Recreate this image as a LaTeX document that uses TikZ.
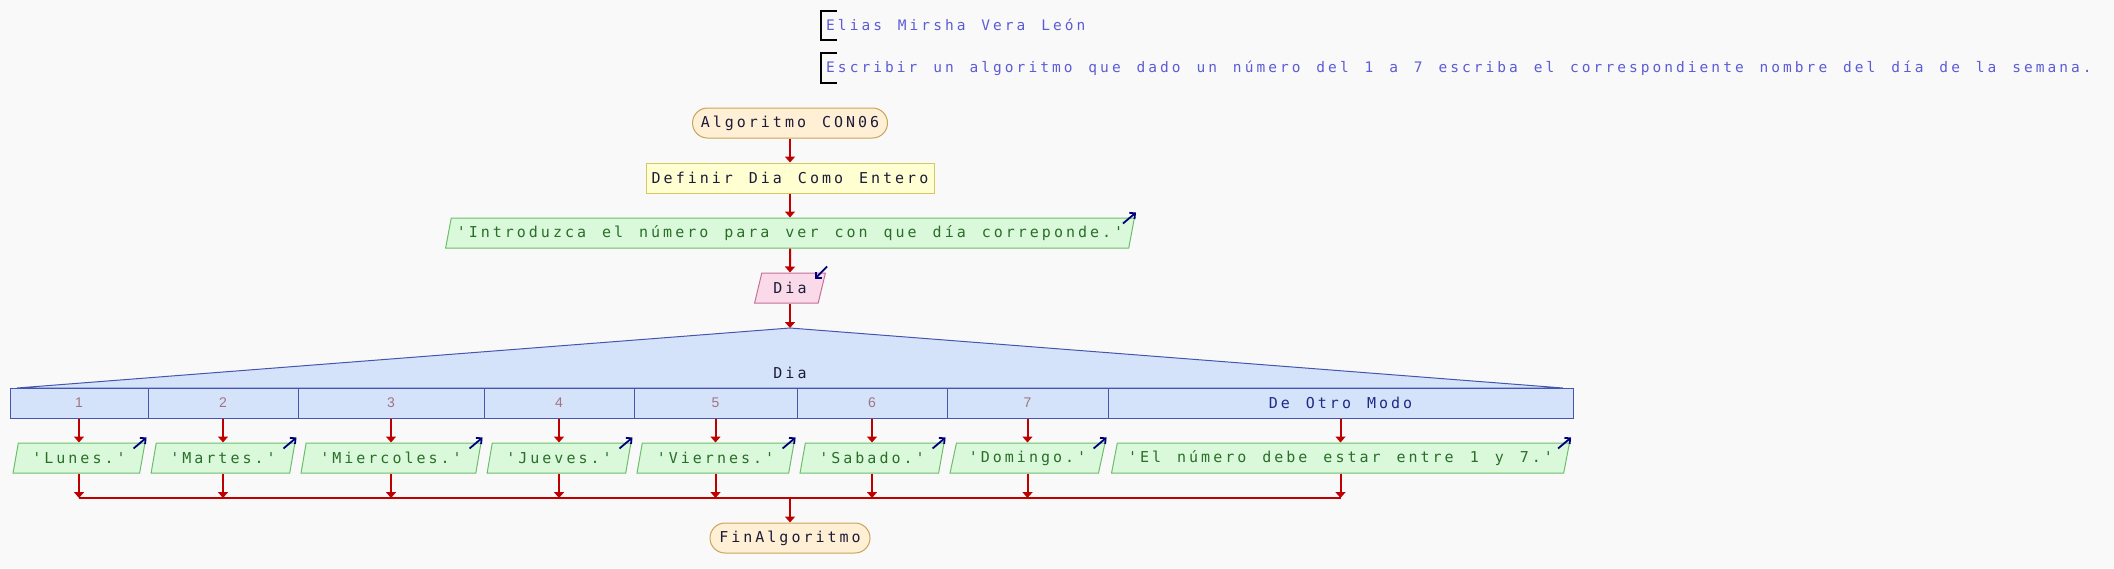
\documentclass[tikz,border=0pt]{standalone}
\usepackage{fontspec}
\usetikzlibrary{shapes.geometric,arrows.meta}
\newfontfamily\flowfont[LetterSpace=20,WordSpace=1.33,Ligatures=TeXOff]{DejaVu Sans Mono}
\newfontfamily\notefont[LetterSpace=21,WordSpace=1.35,Ligatures=TeXOff]{DejaVu Sans Mono}
\newfontfamily\casefont{Liberation Sans}
\definecolor{paperGray}{HTML}{F9F9F9}
\definecolor{noteBlue}{HTML}{5C5CD6}
\definecolor{inkNavy}{HTML}{1C1C3A}
\definecolor{flowRed}{HTML}{BE0000}
\definecolor{iconNavy}{HTML}{000078}
\definecolor{endFill}{HTML}{FFEFD4}
\definecolor{endLine}{HTML}{C9A45A}
\definecolor{defFill}{HTML}{FFFFD2}
\definecolor{defLine}{HTML}{D2C864}
\definecolor{outFill}{HTML}{DAF8DA}
\definecolor{outLine}{HTML}{6CBE6C}
\definecolor{outText}{HTML}{2A6E2A}
\definecolor{inFill}{HTML}{FADAE8}
\definecolor{inLine}{HTML}{C4709A}
\definecolor{caseFill}{HTML}{D4E2FA}
\definecolor{caseLine}{HTML}{4656B0}
\definecolor{caseNum}{HTML}{A07484}
\definecolor{otherBlue}{HTML}{1E2A88}

\tikzset{
  every node/.style={inner sep=0pt, text=inkNavy, font=\flowfont\fontsize{15}{15}\selectfont},
  note/.style={anchor=west, text=noteBlue, font=\notefont\fontsize{14.5}{14.5}\selectfont},
  bracket/.style={line width=1.4pt, black},
  terminal/.style={draw=endLine, fill=endFill, rounded corners=15pt, minimum height=30pt, line width=1pt},
  define/.style={draw=defLine, fill=defFill, minimum height=30pt, line width=1pt},
  slanted/.style={trapezium, trapezium left angle=70, trapezium right angle=110, trapezium stretches=true, minimum height=30pt, line width=1pt},
  outbox/.style={slanted, draw=outLine, fill=outFill, text=outText},
  inbox/.style={slanted, draw=inLine, fill=inFill},
  casecell/.style={draw=caseLine, fill=caseFill, minimum height=30pt, line width=1pt, text=caseNum, font=\casefont\fontsize{14}{14}\selectfont},
  flow/.style={flowRed, line width=2pt, -{Triangle[length=6pt,width=10pt]}},
  icon/.style={iconNavy, line width=1.8pt, -{Straight Barb[length=4pt,width=8pt]}},
}

\begin{document}
\begin{tikzpicture}[x=1pt, y=-1pt]
\useasboundingbox (0,0) rectangle (2114,568);
\fill[paperGray] (0,0) rectangle (2114,568);

\node[note] (author) at (826,25) {Elias Mirsha Vera León};
\draw[bracket] ([shift={(11,-14)}]author.west) -- ++(-16,0) -- ++(0,29) -- ++(16,0);
\node[note] (task) at (826,68) {Escribir un algoritmo que dado un número del 1 a 7 escriba el correspondiente nombre del día de la semana.};
\draw[bracket] ([shift={(11,-15)}]task.west) -- ++(-16,0) -- ++(0,30) -- ++(16,0);

\node[terminal, minimum width=195pt] (start) at (790,123) {Algoritmo CON06};
\node[define, minimum width=288pt] (define) at (790,178) {Definir Dia Como Entero};
\node[outbox, minimum width=694pt] (prompt) at (790,233) {'Introduzca el número para ver con que día correponde.'};
\node[inbox, minimum width=71pt] (read) at (790,288) {Dia};
\coordinate (apex) at (790,328);

\draw[flow] (start) -- (define);
\draw[flow] (define) -- (prompt);
\draw[flow] (prompt) -- (read);
\draw[flow] (read) -- (apex);
\draw[icon] ([shift={(-12,6)}]prompt.top right corner) -- ([shift={(1,-5)}]prompt.top right corner);
\draw[icon] ([shift={(1,-6)}]read.top right corner) -- ([shift={(-11,6)}]read.top right corner);

\filldraw[fill=caseFill, draw=caseLine, line width=1pt] (17,388) -- (apex) -- (1563,388) -- cycle;
\node (selector) at (790,373) {Dia};

\node[casecell, minimum width=138pt] (case1) at (79,403) {1};
\node[casecell, minimum width=150pt] (case2) at (223,403) {2};
\node[casecell, minimum width=186pt] (case3) at (391,403) {3};
\node[casecell, minimum width=150pt] (case4) at (559,403) {4};
\node[casecell, minimum width=163pt] (case5) at (715.5,403) {5};
\node[casecell, minimum width=150pt] (case6) at (872,403) {6};
\node[casecell, minimum width=161pt] (case7) at (1027.5,403) {7};
\node[casecell, minimum width=465pt, text=otherBlue, font=\flowfont\fontsize{15}{15}\selectfont] (caseother) at (1340.5,403) {De Otro Modo};

\node[outbox, minimum width=132pt] (lunes) at (79,458) {'Lunes.'};
\node[outbox, minimum width=144pt] (martes) at (223,458) {'Martes.'};
\node[outbox, minimum width=180pt] (miercoles) at (391,458) {'Miercoles.'};
\node[outbox, minimum width=144pt] (jueves) at (559,458) {'Jueves.'};
\node[outbox, minimum width=157pt] (viernes) at (715.5,458) {'Viernes.'};
\node[outbox, minimum width=144pt] (sabado) at (872,458) {'Sabado.'};
\node[outbox, minimum width=155pt] (domingo) at (1027.5,458) {'Domingo.'};
\node[outbox, minimum width=459pt] (otherwise) at (1340.5,458) {'El número debe estar entre 1 y 7.'};

\draw[flow] (case1) -- (lunes);
\draw[flow] (case2) -- (martes);
\draw[flow] (case3) -- (miercoles);
\draw[flow] (case4) -- (jueves);
\draw[flow] (case5) -- (viernes);
\draw[flow] (case6) -- (sabado);
\draw[flow] (case7) -- (domingo);
\draw[flow] (caseother) -- (otherwise);

\draw[icon] ([shift={(-12,6)}]lunes.top right corner) -- ([shift={(1,-5)}]lunes.top right corner);
\draw[icon] ([shift={(-12,6)}]martes.top right corner) -- ([shift={(1,-5)}]martes.top right corner);
\draw[icon] ([shift={(-12,6)}]miercoles.top right corner) -- ([shift={(1,-5)}]miercoles.top right corner);
\draw[icon] ([shift={(-12,6)}]jueves.top right corner) -- ([shift={(1,-5)}]jueves.top right corner);
\draw[icon] ([shift={(-12,6)}]viernes.top right corner) -- ([shift={(1,-5)}]viernes.top right corner);
\draw[icon] ([shift={(-12,6)}]sabado.top right corner) -- ([shift={(1,-5)}]sabado.top right corner);
\draw[icon] ([shift={(-12,6)}]domingo.top right corner) -- ([shift={(1,-5)}]domingo.top right corner);
\draw[icon] ([shift={(-12,6)}]otherwise.top right corner) -- ([shift={(1,-5)}]otherwise.top right corner);

\coordinate (join) at (790,498);
\draw[flow] (lunes) -- (lunes |- join);
\draw[flow] (martes) -- (martes |- join);
\draw[flow] (miercoles) -- (miercoles |- join);
\draw[flow] (jueves) -- (jueves |- join);
\draw[flow] (viernes) -- (viernes |- join);
\draw[flow] (sabado) -- (sabado |- join);
\draw[flow] (domingo) -- (domingo |- join);
\draw[flow] (otherwise) -- (otherwise |- join);
\draw[flowRed, line width=2pt] (lunes |- join) -- (otherwise |- join);

\node[terminal, minimum width=160pt] (finish) at (790,538) {FinAlgoritmo};
\draw[flow] (join) -- (finish);
\end{tikzpicture}
\end{document}
